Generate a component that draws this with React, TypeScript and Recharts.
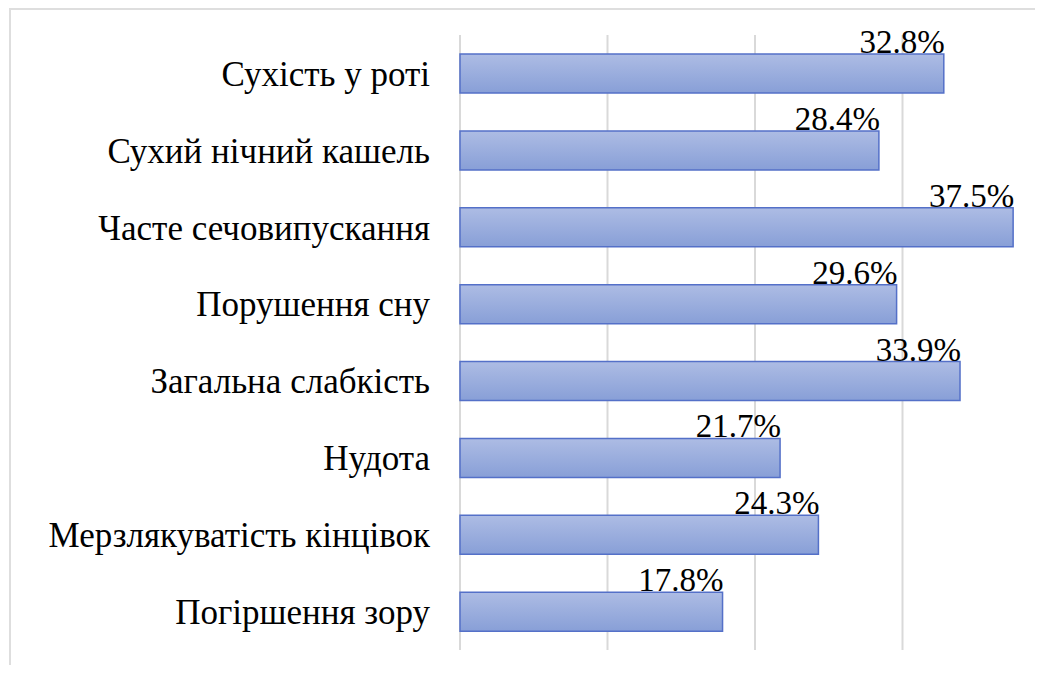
import React from "react";
import { BarChart, Bar, XAxis, YAxis, CartesianGrid, LabelList } from "recharts";

const symptoms = [
  "Сухість у роті",
  "Сухий нічний кашель",
  "Часте сечовипускання",
  "Порушення сну",
  "Загальна слабкість ",
  "Нудота",
  "Мерзлякуватість кінцівок",
  "Погіршення зору",
];
const shares = [32.8, 28.4, 37.5, 29.6, 33.9, 21.7, 24.3, 17.8];
const xTicks = [0, 10, 20, 30, 40];

const data = symptoms.map((name, i) => ({ name, value: shares[i] }));

const font = "Liberation Serif";

function ValueLabel(props: any) {
  const { x, y, width, value } = props;
  return (
    <text x={x + width + 1} y={y - 1} textAnchor="end" fontFamily={font} fontSize={33}>
      {value.toFixed(1)}%
    </text>
  );
}

export default function App() {
  return (
    <div style={{ width: 1027, height: 657, overflow: "hidden", fontFamily: font }}>
      <div style={{ marginLeft: 1, width: 1100, height: 720, border: "2px solid #dedede" }}>
        <BarChart
          width={1060}
          height={660}
          data={data}
          layout="vertical"
          margin={{ top: 25, right: 21, bottom: 20, left: 0 }}
          style={{ fontFamily: font }}
        >
          <defs>
            <linearGradient id="barFill" x1="0" y1="0" x2="0" y2="1">
              <stop offset="0%" stopColor="#adbce4" />
              <stop offset="100%" stopColor="#889fd7" />
            </linearGradient>
          </defs>
          <CartesianGrid horizontal={false} stroke="#d9d9d9" strokeWidth={2} />
          <XAxis type="number" domain={[0, 40]} ticks={xTicks} hide />
          <YAxis
            type="category"
            dataKey="name"
            width={449}
            axisLine={false}
            tickLine={false}
            tickSize={6}
            tickMargin={24}
            tick={{ fontFamily: font, fontSize: 35, fill: "#000" }}
            interval={0}
          />
          <Bar
            dataKey="value"
            barSize={39}
            fill="url(#barFill)"
            stroke="#5470c8"
            strokeWidth={1.5}
            isAnimationActive={false}
          >
            <LabelList dataKey="value" content={<ValueLabel />} />
          </Bar>
        </BarChart>
      </div>
    </div>
  );
}
